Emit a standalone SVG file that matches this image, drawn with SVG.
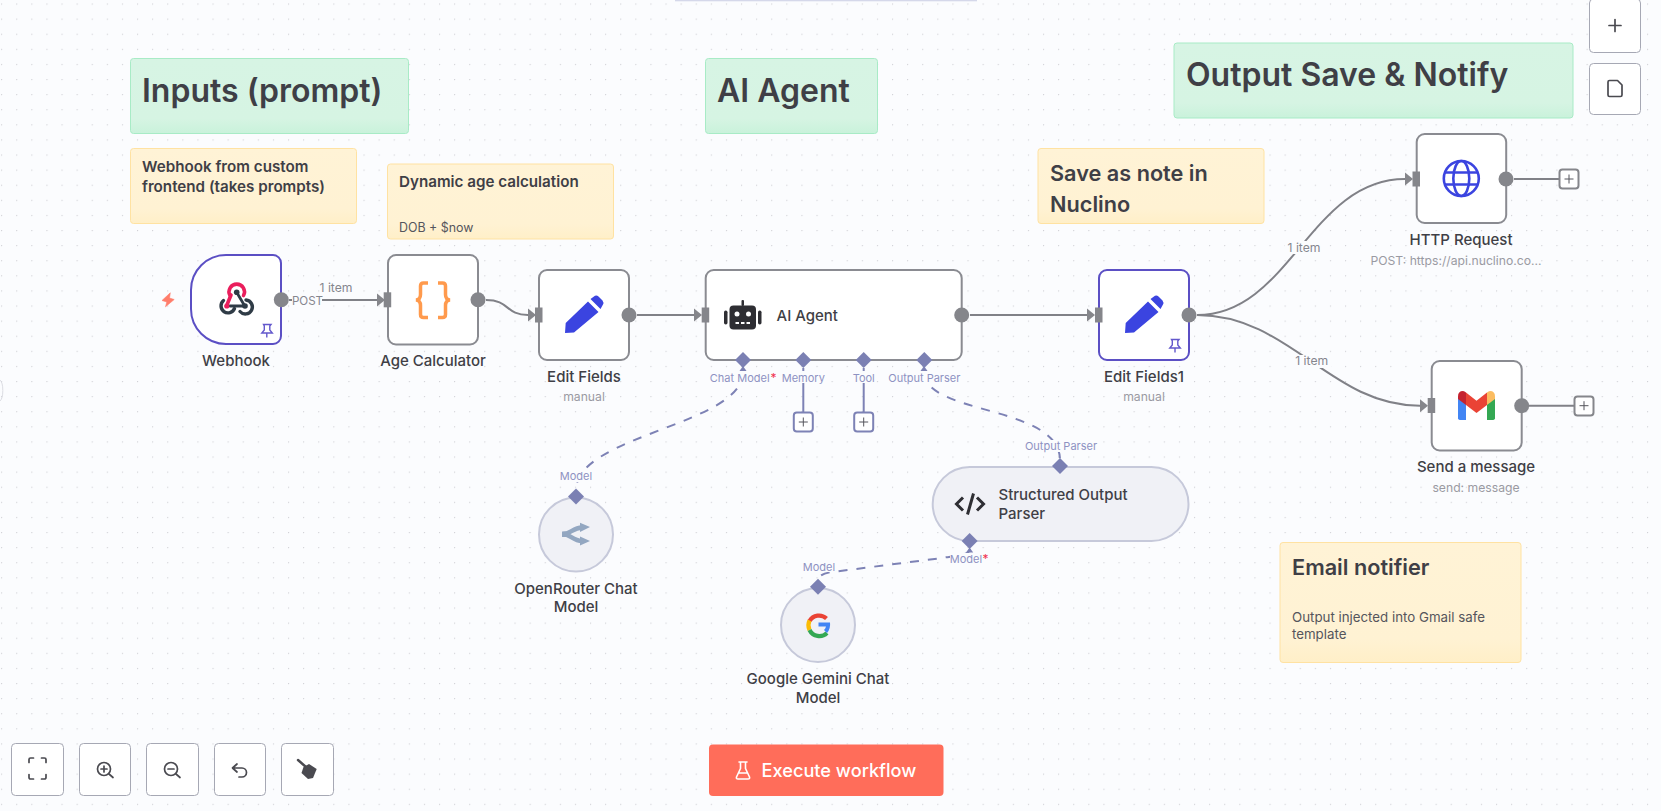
<svg xmlns="http://www.w3.org/2000/svg" width="1661" height="811" viewBox="0 0 1661 811">
<style>
text{font-family:Inter,"Noto Sans","Liberation Sans",sans-serif;fill:#3f3f46}
.node{fill:#fff;stroke:#8a8b91;stroke-width:2}
.pinned{stroke:#5b4fc4}
.ai{fill:#f0f1f6;stroke:#c6c9da;stroke-width:2}
.green{fill:url(#gg);stroke:#a8ebc6;stroke-width:1}
.yellow{fill:url(#gy);stroke:#ffe2a2;stroke-width:1}
.h1{font-size:32px;font-weight:600}
.h2{font-size:21.700px;font-weight:600}
.h3{font-size:15.200px;font-weight:600}
.body{font-size:13.300px;font-weight:400;fill:#55555c}
.lbl{font-size:15px;font-weight:500;text-anchor:middle}
.nl{font-size:15px;font-weight:500}
.sublbl{font-size:12.200px;fill:#9a9aa2;text-anchor:middle}
.ilbl{font-size:12.200px;fill:#85868e;text-anchor:middle}
.plbl{font-size:11px;fill:#8e92c2;text-anchor:middle}
.star{font-size:12px;fill:#f0314f}
.main{fill:none;stroke:#808187;stroke-width:2}
.aux{fill:none;stroke:#7d82b5;stroke-width:2}
.dash{fill:none;stroke:#7d82b5;stroke-width:2;stroke-dasharray:9 9}
.dot{fill:#85868b}
.inp{fill:#85868b}
.dia{fill:#7b80b3}
.plus{fill:#fff;stroke-width:2}
.btn{fill:#fff;stroke:#a6a8b4;stroke-width:1}
.ic{fill:none;stroke:#4a4a50;stroke-width:1.700;stroke-linecap:round;stroke-linejoin:round}
.halo{fill:#fbfcfe}
.pen{fill:#3b44e0}
</style>
<defs>
<pattern id="grid" width="15.1" height="15.1" patternUnits="userSpaceOnUse" x="1.1" y="3.5">
<rect width="15.1" height="15.1" fill="#fbfcfe"/>
<circle cx="0.5" cy="0.5" r="0.65" fill="#cfcfd4"/>
</pattern>
<linearGradient id="gg" x1="0" y1="0" x2="0" y2="1"><stop offset="0" stop-color="#d7f4e4"/><stop offset=".8" stop-color="#d6f4e3"/><stop offset="1" stop-color="#c9f2db"/></linearGradient>
<linearGradient id="gy" x1="0" y1="0" x2="0" y2="1"><stop offset="0" stop-color="#fff3d6"/><stop offset=".8" stop-color="#fff2d3"/><stop offset="1" stop-color="#ffefc8"/></linearGradient>
</defs>
<rect width="1661" height="811" fill="url(#grid)"/>
<rect x="675" y="0" width="302" height="1.300" fill="#d5d8ea"/>
<path d="M0 380a4 11 0 0 1 0 21" fill="none" stroke="#dcdde3" stroke-width="1"/>

<g id="sticky-inputs"><rect class="green" x="130.500" y="58.500" width="278" height="75" rx="3"/><text class="h1" x="142" y="101.500">Inputs (prompt)</text></g>
<g id="sticky-webhook"><rect class="yellow" x="130.500" y="148.500" width="226" height="75" rx="3"/><text class="h3" x="142" y="172">Webhook from custom</text><text class="h3" x="142" y="192">frontend (takes prompts)</text></g>
<g id="sticky-age"><rect class="yellow" x="387.500" y="164" width="226" height="75" rx="3"/><text class="h3" x="399" y="187">Dynamic age calculation</text><text class="body" x="399" y="232" style="font-size:12.400px">DOB + $now</text></g>
<g id="sticky-agent"><rect class="green" x="705.500" y="58.500" width="172" height="75" rx="3"/><text class="h1" x="717" y="101.500">AI Agent</text></g>
<g id="sticky-output"><rect class="green" x="1174" y="43" width="399" height="75" rx="3"/><text class="h1" x="1186" y="85.500">Output Save &amp; Notify</text></g>
<g id="sticky-save"><rect class="yellow" x="1038" y="148.500" width="226" height="75" rx="3"/><text class="h2" x="1050" y="180.500">Save as note in</text><text class="h2" x="1050" y="212">Nuclino</text></g>
<g id="sticky-email"><rect class="yellow" x="1280" y="542.500" width="241" height="120" rx="3"/><text class="h2" x="1292" y="574.500">Email notifier</text><text class="body" x="1292" y="621.500">Output injected into Gmail safe</text><text class="body" x="1292" y="638.500">template</text></g>

<g id="connectors">
<path class="main" d="M289 300H378"/><path d="M377 293.500l8 6.500-8 6.500z" class="inp"/>
<path class="main" d="M486 300C510 300 505 315 528 315"/><path d="M528 308.500l8 6.500-8 6.500z" class="inp"/>
<path class="main" d="M637 315H695"/><path d="M694 308.500l8 6.500-8 6.500z" class="inp"/>
<path class="main" d="M970 315H1088"/><path d="M1087 308.500l8 6.500-8 6.500z" class="inp"/>
<path class="main" d="M1197 315C1290 315 1310 179 1405 179"/><path d="M1405 172.500l8 6.500-8 6.500z" class="inp"/>
<path class="main" d="M1197 315C1290 315 1330 405.700 1420 405.700"/><path d="M1420 399.200l8 6.500-8 6.500z" class="inp"/>
<path class="main" d="M1514 179H1559"/>
<path class="main" d="M1529 405.700H1574"/>
<path class="aux" d="M803.300 368V412"/>
<path class="aux" d="M863.700 368V412"/>
<path class="dash" d="M743 372C743 425 576 435 576 490"/>
<path class="dash" d="M924 372C924 415 1060 405 1060 460"/>
<path class="dash" d="M970 549C970 556 950 556 942 558L832 572C825 573 818 575 818 581"/>
<path d="M739.500 371l3.500-5 3.500 5z" class="dia"/>
<path d="M920.500 371l3.500-5 3.500 5z" class="dia"/>
<path d="M966 552.500l3.600-5 3.600 5z" class="dia"/>
<rect class="halo" x="292" y="293" width="30" height="14"/><text class="ilbl" x="307.500" y="304.500" style="font-size:11.600px">POST</text>
<text class="ilbl" x="336" y="292">1 item</text>
<rect class="halo" x="1285" y="241" width="38" height="13"/><text class="ilbl" x="1304" y="251.500">1 item</text>
<rect class="halo" x="1293" y="355" width="38" height="13"/><text class="ilbl" x="1311.700" y="365">1 item</text>
</g>

<g id="node-webhook">
<path class="node pinned" d="M226 255H273a8 8 0 0 1 8 8V336a8 8 0 0 1-8 8H226a35 35 0 0 1-35-35V290a35 35 0 0 1 35-35z"/>
<circle class="dot" cx="281.300" cy="299.700" r="7.500"/>
<g fill="none" stroke-linecap="round">
<path d="M236.500 292L244.800 306H230" stroke="#2f3b46" stroke-width="2.800"/>
<path d="M223.500 300.500A7 7 0 1 0 234.500 308.500" stroke="#2f3b46" stroke-width="3.400"/>
<path d="M246 300A7 7 0 1 1 240 311.500" stroke="#2f3b46" stroke-width="3.400"/>
<path d="M243.500 295.500A7.700 7.700 0 1 0 230 295.500" stroke="#ea1e5c" stroke-width="3.600"/>
<path d="M231 295L226.500 306" stroke="#ea1e5c" stroke-width="3.600"/>
</g>
<circle cx="236.700" cy="292.300" r="2.800" fill="#2f3b46"/><circle cx="245" cy="306" r="2.800" fill="#2f3b46"/><circle cx="226.800" cy="306" r="2.600" fill="#ea1e5c"/>
<path d="M263.500 324.500h7.500l-1.200 1.500v4l2.500 3h-10.500l2.500-3v-4zM266.800 333v4.500" fill="none" stroke="#6358cc" stroke-width="1.400"/>
<path d="M170.300 292.800L162 300.500L166.800 302L165.500 306.800L174.200 299.500L169.500 298Z" fill="#ff7d6b" stroke="#ff7d6b" stroke-width=".6"/>
<text class="lbl" x="236" y="366">Webhook</text>
</g>

<g id="node-age">
<rect class="node" x="388" y="255" width="90" height="89.500" rx="8"/>
<rect class="inp" x="383.700" y="292.300" width="7.500" height="15"/>
<circle class="dot" cx="478" cy="299.700" r="7.500"/>
<g fill="none" stroke="#ff9a4d" stroke-width="3.500"><path d="M428 283h-4.500q-3 0-3 3v8.500q0 5-4.500 5.500q4.500 .5 4.500 5.500v9q0 3 3 3h4.500"/><path d="M438 283h4.500q3 0 3 3v8.500q0 5 4.500 5.500q-4.500 .5-4.500 5.500v9q0 3-3 3h-4.500"/></g>
<text class="lbl" x="433" y="366">Age Calculator</text>
</g>

<g id="node-edit">
<rect class="node" x="539" y="270" width="90" height="90" rx="8"/>
<rect class="inp" x="535" y="307.500" width="7.500" height="15"/>
<circle class="dot" cx="629" cy="315" r="7.500"/>
<path class="pen" d="M565 333L565.700 323L588 301.500L598.500 312L574 332.500ZM590.500 299L595 295.700Q597 295 598.500 296.500L602.500 300.500Q604 302.500 603 304.500L600.500 309Z"/>
<text class="lbl" x="584" y="381.500">Edit Fields</text>
<text class="sublbl" x="584" y="401">manual</text>
</g>

<g id="node-agent">
<rect class="node" x="705.700" y="270" width="256" height="90" rx="8"/>
<rect class="inp" x="701.700" y="307.500" width="7.500" height="15"/>
<circle class="dot" cx="961.700" cy="315" r="7.500"/>
<rect x="729.500" y="305.500" width="26.500" height="24" rx="4" fill="#2e2e33"/>
<rect x="724" y="310.500" width="3.500" height="14" rx="1.700" fill="#2e2e33"/><rect x="758" y="310.500" width="3.500" height="14" rx="1.700" fill="#2e2e33"/>
<rect x="741.500" y="300" width="2.500" height="6" rx="1" fill="#2e2e33"/>
<circle cx="737" cy="314" r="2.500" fill="#fff"/><circle cx="748.500" cy="314" r="2.500" fill="#fff"/>
<path d="M735.500 323h3.500M741 323h3.500M746.500 323h3.500" stroke="#fff" stroke-width="2"/>
<text class="nl" x="776.500" y="320.500">AI Agent</text>
<path class="dia" d="M743 352l8 8-8 8-8-8z"/><path class="dia" d="M803.300 352l8 8-8 8-8-8z"/><path class="dia" d="M863.700 352l8 8-8 8-8-8z"/><path class="dia" d="M924.300 352l8 8-8 8-8-8z"/>
<rect class="halo" x="710" y="372" width="66" height="11"/><rect class="halo" x="782" y="371" width="43" height="12"/><rect class="halo" x="852" y="371" width="24" height="12"/><rect class="halo" x="888" y="372" width="72" height="11"/>
<text class="plbl" x="739.700" y="381.500">Chat Model</text><text class="star" x="770.500" y="381.500">*</text>
<text class="plbl" x="803.300" y="381.500">Memory</text><text class="plbl" x="863.700" y="381.500">Tool</text><text class="plbl" x="924.300" y="381.500">Output Parser</text>
<g id="plus-memory"><rect class="plus" stroke="#7d82b5" x="793.800" y="412.500" width="19" height="19" rx="3"/><path d="M803.300 417.500v9M798.800 422h9" stroke="#55555c" stroke-width="1"/></g>
<g id="plus-tool"><rect class="plus" stroke="#7d82b5" x="854.200" y="412.500" width="19" height="19" rx="3"/><path d="M863.700 417.500v9M859.200 422h9" stroke="#55555c" stroke-width="1"/></g>
</g>

<g id="node-edit1">
<rect class="node pinned" x="1099" y="270" width="90" height="90" rx="8"/>
<rect class="inp" x="1095" y="307.500" width="7.500" height="15"/>
<circle class="dot" cx="1189" cy="315" r="7.500"/>
<path class="pen" transform="translate(560 0)" d="M565 333L565.700 323L588 301.500L598.500 312L574 332.500ZM590.500 299L595 295.700Q597 295 598.500 296.500L602.500 300.500Q604 302.500 603 304.500L600.500 309Z"/>
<path d="M1171.500 339.500h7.500l-1.200 1.500v4l2.500 3h-10.500l2.500-3v-4zM1175 348v4.500" fill="none" stroke="#6358cc" stroke-width="1.400"/>
<text class="lbl" x="1144" y="381.500">Edit Fields1</text>
<text class="sublbl" x="1144" y="401">manual</text>
</g>

<g id="node-http">
<rect class="node" x="1416.700" y="134" width="89.500" height="89" rx="8"/>
<rect class="inp" x="1412.500" y="171.500" width="7.500" height="15"/>
<circle class="dot" cx="1506" cy="179" r="7.500"/>
<g fill="none" stroke="#3b44e0" stroke-width="2.600"><circle cx="1461.300" cy="178.500" r="17.500"/><ellipse cx="1461.300" cy="178.500" rx="8" ry="17.500"/><path d="M1445 172.500h32.600M1445 184.500h32.600"/></g>
<text class="lbl" x="1461" y="245">HTTP Request</text>
<text class="sublbl" x="1456" y="265">POST: https://api.nuclino.co...</text>
<g id="plus-http"><rect class="plus" stroke="#85868b" x="1559.500" y="169.500" width="19" height="19" rx="3"/><path d="M1569 174.500v9M1564.500 179h9" stroke="#55555c" stroke-width="1"/></g>
</g>

<g id="node-send">
<rect class="node" x="1431.700" y="361" width="90" height="89.500" rx="8"/>
<rect class="inp" x="1427.700" y="398" width="7.500" height="15"/>
<circle class="dot" cx="1521.700" cy="405.700" r="7.500"/>
<path d="M1458 398V417.500a2 2 0 0 0 2 2.500h6V403z" fill="#4285f4"/>
<path d="M1487 403V420h6a2 2 0 0 0 2-2.500V398z" fill="#34a853"/>
<path d="M1466 392.500L1476.500 400.800L1487 392.500V405L1476.500 413L1466 405Z" fill="#ea4335"/>
<path d="M1458 396.500q0-5.500 5-5.500q1.500 0 3 1.500V405L1458 399z" fill="#c5222f"/>
<path d="M1487 392.500q1.500-1.500 3-1.500q5 0 5 5.500v2.500L1487 405z" fill="#fbbc60"/>
<text class="lbl" x="1476" y="472">Send a message</text>
<text class="sublbl" x="1476" y="492">send: message</text>
<g id="plus-send"><rect class="plus" stroke="#85868b" x="1574.500" y="396.500" width="19" height="19" rx="3"/><path d="M1584 401.200v9M1579.500 405.700h9" stroke="#55555c" stroke-width="1"/></g>
</g>

<g id="node-openrouter">
<circle class="ai" cx="576" cy="534.500" r="37"/>
<g fill="#93a7c1"><path d="M563 534C570 534 573 528 582 527.500M563 534C570 534 573 541 582 541" fill="none" stroke="#93a7c1" stroke-width="4.500"/><rect x="562" y="531.500" width="6" height="5.500"/><path d="M580 522.700L590 527L580 532zM580 536.500L590 541L580 545.500z"/></g>
<text class="lbl" x="576" y="593.500">OpenRouter Chat</text><text class="lbl" x="576" y="612">Model</text>
<path class="dia" d="M576 488.500l8 8-8 8-8-8z"/>
<rect class="halo" x="558" y="470" width="35" height="12"/>
<text class="plbl" x="576" y="480">Model</text>
</g>

<g id="node-gemini">
<circle class="ai" cx="818" cy="625" r="37"/>
<g fill="none" stroke-width="4.200">
<path d="M826.500 618.500a11 11 0 0 0-17 2.500" stroke="#ea4335"/>
<path d="M809.500 620.500a11 11 0 0 0 0 9.500" stroke="#fbbc05"/>
<path d="M809.500 630a11 11 0 0 0 17.500 3" stroke="#34a853"/>
</g>
<path d="M818.500 622.500H830q.8 6-3 10.500l-3-3q1.500-1.500 2-3.500h-7.500z" fill="#4285f4"/>
<text class="lbl" x="818" y="684">Google Gemini Chat</text><text class="lbl" x="818" y="703">Model</text>
<path class="dia" d="M818 578.700l8 8-8 8-8-8z"/>
<rect class="halo" x="800" y="561" width="36" height="11"/>
<text class="plbl" x="819" y="571">Model</text>
</g>

<g id="node-parser">
<rect class="ai" x="932.700" y="467" width="255.800" height="74" rx="37"/>
<path d="M963 497.500l-6.500 6.500 6.500 6.500M977 497.500l6.500 6.500-6.500 6.500M973.500 493.500l-6 21" fill="none" stroke="#2e2e33" stroke-width="3"/>
<text class="nl" x="998.500" y="499.500">Structured Output</text><text class="nl" x="998.500" y="518.500">Parser</text>
<path class="dia" d="M1060 458l8 8-8 8-8-8z"/><path class="dia" d="M969.600 533l8 8-8 8-8-8z"/>
<rect class="halo" x="1024" y="440" width="72" height="12"/><text class="plbl" x="1061" y="450">Output Parser</text>
<rect class="halo" x="950" y="553" width="38" height="12"/><text class="plbl" x="966" y="563">Model</text><text class="star" x="982.500" y="563">*</text>
</g>

<g id="controls">
<rect class="btn" x="1589.500" y="-1" width="51" height="53.500" rx="4"/><path class="ic" d="M1615 19.500v12M1609 25.500h12"/>
<rect class="btn" x="1589.500" y="63.500" width="51" height="51" rx="4"/><path class="ic" d="M1608 82a1.500 1.500 0 0 1 1.500-1.500h8l4.500 4.500v10a1.500 1.500 0 0 1-1.500 1.500h-11a1.500 1.500 0 0 1-1.500-1.500z"/>
<rect class="btn" x="11.500" y="743.500" width="52" height="52" rx="4"/><path class="ic" d="M29 762.500v-3a1.500 1.500 0 0 1 1.500-1.500h3M41.500 758h3a1.500 1.500 0 0 1 1.500 1.500v3M46 774.500v3a1.500 1.500 0 0 1-1.500 1.500h-3M33.500 779h-3a1.500 1.500 0 0 1-1.500-1.500v-3"/>
<rect class="btn" x="79.500" y="743.500" width="51" height="52" rx="4"/><circle class="ic" cx="104" cy="769" r="6.500"/><path class="ic" d="M109 774l4 3.500M104 766v6M101 769h6"/>
<rect class="btn" x="146.500" y="743.500" width="52" height="52" rx="4"/><circle class="ic" cx="171" cy="769" r="6.500"/><path class="ic" d="M176 774l4 3.500M168 769h6"/>
<rect class="btn" x="214.500" y="743.500" width="51" height="52" rx="4"/><path class="ic" d="M237 764l-4.500 4 4.500 4M233 768h9a4.500 4.500 0 0 1 0 9h-3"/>
<rect class="btn" x="281.500" y="743.500" width="52" height="52" rx="4"/><path d="M298 760L306 767" stroke="#4a4a50" stroke-width="2.500" stroke-linecap="round"/><path d="M303.500 767L309 764L316.700 769L313 778L308 779L301.500 773Z" fill="#4a4a50"/>
</g>

<g id="execute">
<rect x="709" y="744.500" width="234.500" height="51.500" rx="4" fill="#ff6d5a"/>
<path d="M739 762h8M740.500 762.500v6l-4 8.500q-.5 2 1.500 2h10q2 0 1.500-2l-4-8.500v-6M738.500 773h9" fill="none" stroke="#fff" stroke-width="1.600" stroke-linejoin="round" stroke-linecap="round"/>
<text x="761.500" y="776.500" style="font-size:18.200px;font-weight:500;fill:#fff">Execute workflow</text>
</g>
</svg>
